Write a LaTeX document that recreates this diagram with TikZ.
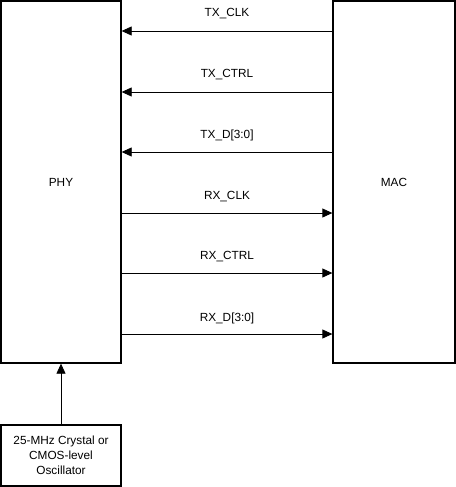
\documentclass[tikz,border=0pt]{standalone}
\usepackage{fontspec}
\setmainfont{Liberation Sans}
\usetikzlibrary{arrows.meta}
\begin{document}
\begin{tikzpicture}[x=1pt,y=-1pt,
  blk/.style={draw=black,line width=1.3pt,fill=white,inner sep=0pt,
    font=\fontsize{11.8}{15}\selectfont,align=center},
  sig/.style={line width=0.8pt,-{Triangle[length=10pt,width=9pt]}},
  lbl/.style={font=\fontsize{11.8}{14}\selectfont,inner sep=0pt},
  ]
\useasboundingbox (0,0) rectangle (455,487);
\node[blk,minimum width=120pt,minimum height=362pt] (phy) at (61,182) {PHY};
\node[blk,minimum width=122pt,minimum height=362pt] (mac) at (394,182) {MAC};
\node[blk,minimum width=120pt,minimum height=61pt] (osc) at (61,455.5) {25-MHz Crystal or\\CMOS-level\\Oscillator};
\draw[sig] (osc.north) -- (phy.south);
\foreach \y/\t [count=\i] in {31/TX\_CLK,92/TX\_CTRL,152/TX\_D[3:0]}{
  \draw[sig] (mac.west |- 0,\y) -- (phy.east |- 0,\y);
  \node[lbl] (l\i) at (227,\y-17) {\t};
}
\foreach \y/\t [count=\i] in {213/RX\_CLK,273/RX\_CTRL,334/RX\_D[3:0]}{
  \draw[sig] (phy.east |- 0,\y) -- (mac.west |- 0,\y);
  \node[lbl] (rl\i) at (227,\y-16) {\t};
}
\end{tikzpicture}
\end{document}
